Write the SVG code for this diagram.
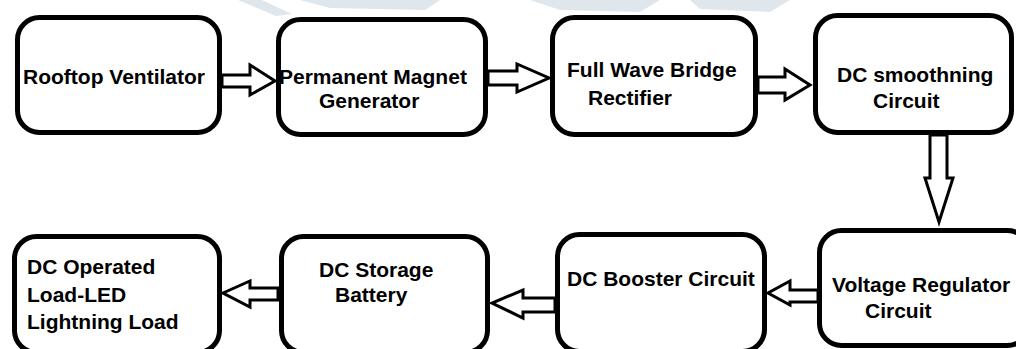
<svg xmlns="http://www.w3.org/2000/svg" width="1016" height="349" viewBox="0 0 1016 349">
<style>
.box{fill:#fff;stroke:#000;stroke-width:5}
.arr{fill:#fff;stroke:#000;stroke-width:3;stroke-linejoin:miter}
.t{font-family:"Liberation Sans",Arial,sans-serif;font-weight:bold;font-size:21px;fill:#000}
.wm{fill:#dfe7ec}
</style>
<rect width="1016" height="349" fill="#fff"/>
<g id="watermark">
<polygon class="wm" points="238,0 262,0 292,14 276,16"/>
<polygon class="wm" points="300,0 440,0 425,10 330,8"/>
<polygon class="wm" points="530,0 660,0 640,12 560,10"/>
<polygon class="wm" points="690,0 790,0 770,12 700,9"/>
</g>
<g id="connectors">
<polygon class="arr" points="222,75 250,75 250,65 275,81 250,95 250,87 222,87"/>
<polygon class="arr" points="488,71 517,71 517,64 549,78 517,92 517,85 488,85"/>
<polygon class="arr" points="758,77 785,77 785,69 810,85 785,100 785,93 758,93"/>
<polygon class="arr" points="930,135 930,178 925,178 939,222 953,178 947,178 947,135"/>
<polygon class="arr" points="818,290 790,290 790,281 768,293 790,305 790,302 818,302"/>
<polygon class="arr" points="555,298 523,298 523,290 492,303 523,318 523,312 555,312"/>
<polygon class="arr" points="278,288 250,288 250,281 223,293 250,307 250,300 278,300"/>
</g>
<g id="n1"><rect class="box" x="17.5" y="17.5" width="202" height="115" rx="22"/>
<text class="t" x="23" y="84">Rooftop Ventilator</text></g>
<g id="n2"><rect class="box" x="278.5" y="19.5" width="207" height="115" rx="22"/>
<text class="t" x="279" y="84">Permanent Magnet</text><text class="t" x="319" y="108">Generator</text></g>
<g id="n3"><rect class="box" x="552.5" y="17.5" width="203" height="117" rx="22"/>
<text class="t" x="567" y="77">Full Wave Bridge</text><text class="t" x="588" y="105">Rectifier</text></g>
<g id="n4"><rect class="box" x="815.5" y="15.5" width="196" height="117" rx="22"/>
<text class="t" x="837" y="82">DC smoothning</text><text class="t" x="873" y="108">Circuit</text></g>
<g id="n5"><rect class="box" x="14.5" y="236.5" width="205" height="116" rx="22"/>
<text class="t" x="27" y="274">DC Operated</text><text class="t" x="27" y="302">Load-LED</text><text class="t" x="27" y="329">Lightning Load</text></g>
<g id="n6"><rect class="box" x="281.5" y="236.5" width="206" height="116" rx="22"/>
<text class="t" x="319" y="277">DC Storage</text><text class="t" x="335" y="302">Battery</text></g>
<g id="n7"><rect class="box" x="557.5" y="234.5" width="207" height="117" rx="22"/>
<text class="t" x="567" y="286">DC Booster Circuit</text></g>
<g id="n8"><rect class="box" x="819.5" y="230.5" width="210" height="115" rx="22"/>
<text class="t" x="832" y="292">Voltage Regulator</text><text class="t" x="865" y="318">Circuit</text></g>
</svg>
